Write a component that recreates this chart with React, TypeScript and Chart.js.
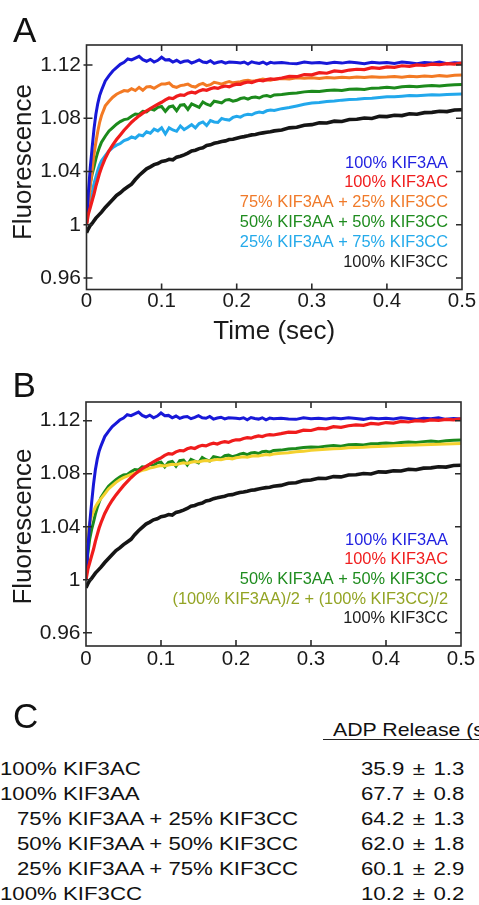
import React, { useEffect, useRef } from "react";
import { Chart, registerables } from "chart.js";

Chart.register(...registerables);

const FONT = '"Liberation Sans", Arial, Helvetica, sans-serif';

// Time (sec)
const TIME = [
  0, 0.0025, 0.005, 0.0075, 0.01, 0.0125, 0.015, 0.0175, 0.02,
  0.025, 0.03, 0.035, 0.04, 0.045, 0.05, 0.055, 0.06, 0.065, 0.07, 0.075, 0.08, 0.085, 0.09, 0.095, 0.1,
  0.105, 0.11, 0.115, 0.12, 0.125, 0.13, 0.135, 0.14, 0.145, 0.15, 0.155, 0.16, 0.165, 0.17, 0.175, 0.18, 0.185, 0.19, 0.195, 0.2,
  0.205, 0.21, 0.215, 0.22, 0.225, 0.23, 0.235, 0.24, 0.245, 0.25,
  0.26, 0.27, 0.28, 0.29, 0.3, 0.31, 0.32, 0.33, 0.34, 0.35, 0.36, 0.37, 0.38, 0.39, 0.4,
  0.41, 0.42, 0.43, 0.44, 0.45, 0.46, 0.47, 0.48, 0.49, 0.5,
];

// 100% KIF3AA (blue)
const KIF3AA = [
  1.0, 1.024, 1.043, 1.058, 1.072, 1.083, 1.091, 1.097, 1.101,
  1.108, 1.112, 1.1155, 1.118, 1.1205, 1.122, 1.1245, 1.1238, 1.1252, 1.1265, 1.124, 1.1228, 1.1242, 1.1222, 1.1235, 1.1258,
  1.1237, 1.124, 1.1222, 1.1235, 1.1218, 1.1228, 1.1232, 1.1215, 1.1225, 1.1238, 1.1222, 1.1218, 1.1232, 1.1212, 1.122, 1.1226, 1.1214, 1.1222, 1.122, 1.1218,
  1.1215, 1.1222, 1.1207, 1.1224, 1.1216, 1.1212, 1.1222, 1.1206, 1.122, 1.1214,
  1.1218, 1.1212, 1.121, 1.1222, 1.1215, 1.1218, 1.1212, 1.122, 1.1214, 1.1222, 1.1216, 1.121, 1.122, 1.1215, 1.1218,
  1.1212, 1.1222, 1.1216, 1.121, 1.1218, 1.1214, 1.1222, 1.121, 1.1216, 1.1212,
];

// 100% KIF3AC (red)
const KIF3AC = [
  1.0, 1.008, 1.013, 1.018, 1.023, 1.029, 1.034, 1.039, 1.043,
  1.05, 1.0555, 1.06, 1.064, 1.0675, 1.071, 1.074, 1.077, 1.0795, 1.0818, 1.0838, 1.0855, 1.0872, 1.089, 1.0905, 1.092,
  1.0938, 1.0952, 1.0948, 1.0965, 1.0975, 1.0972, 1.0988, 1.0996, 1.099, 1.1005, 1.1014, 1.101, 1.1022, 1.103, 1.1024, 1.1036, 1.1042, 1.1036, 1.1048, 1.1056,
  1.1055, 1.1066, 1.1072, 1.1068, 1.1078, 1.1085, 1.108, 1.109, 1.1095, 1.1092,
  1.1102, 1.1114, 1.1112, 1.1128, 1.1126, 1.1142, 1.1138, 1.1155, 1.115, 1.1162, 1.1168, 1.1165, 1.118, 1.1174, 1.1186,
  1.1182, 1.1194, 1.119, 1.12, 1.1196, 1.1206, 1.1202, 1.121, 1.1206, 1.1214,
];

// 75% KIF3AA + 25% KIF3CC (orange)
const MIX75 = [
  1.0, 1.014, 1.029, 1.041, 1.053, 1.062, 1.07, 1.077, 1.082,
  1.0893, 1.0928, 1.0958, 1.098, 1.0995, 1.1008, 1.1004, 1.1022, 1.1008, 1.1032, 1.101, 1.1035, 1.1038, 1.1025, 1.1042, 1.1058,
  1.1058, 1.1065, 1.104, 1.1032, 1.1045, 1.105, 1.1056, 1.104, 1.1034, 1.1052, 1.1062, 1.1045, 1.1052, 1.107, 1.1064, 1.1056, 1.1068, 1.1076, 1.1066, 1.107,
  1.1074, 1.1082, 1.1086, 1.1078, 1.1081, 1.1088, 1.1094, 1.1088, 1.1086, 1.1092,
  1.1098, 1.1094, 1.1104, 1.11, 1.1104, 1.1098, 1.1106, 1.1102, 1.1108, 1.1104, 1.111, 1.1106, 1.1112, 1.1108, 1.111,
  1.1114, 1.1108, 1.1115, 1.1112, 1.1118, 1.1114, 1.112, 1.1116, 1.1122, 1.1125,
];

// 50% KIF3AA + 50% KIF3CC (green)
const MIX50 = [
  1.0, 1.02, 1.031, 1.038, 1.0435, 1.0495, 1.0545, 1.0585, 1.062,
  1.0665, 1.0705, 1.073, 1.0755, 1.0775, 1.079, 1.0795, 1.0815, 1.0832, 1.0828, 1.0852, 1.0848, 1.087, 1.0862, 1.0882, 1.0888,
  1.0852, 1.0885, 1.0892, 1.0856, 1.0898, 1.0902, 1.0866, 1.0908, 1.0895, 1.0882, 1.0922, 1.0905, 1.0895, 1.0928, 1.0922, 1.0915, 1.0936, 1.094, 1.0928, 1.0935,
  1.0948, 1.0954, 1.0944, 1.0956, 1.096, 1.0952, 1.0966, 1.097, 1.0962, 1.0975,
  1.0978, 1.0986, 1.099, 1.0998, 1.1002, 1.1, 1.1008, 1.1012, 1.1008, 1.1018, 1.102, 1.1016, 1.1026, 1.1028, 1.1032,
  1.1028, 1.1036, 1.104, 1.1036, 1.1042, 1.1046, 1.1042, 1.1048, 1.1052, 1.1054,
];

// 25% KIF3AA + 75% KIF3CC (light blue)
const MIX25 = [
  1.002, 1.012, 1.018, 1.024, 1.031, 1.036, 1.041, 1.045, 1.048,
  1.052, 1.0555, 1.058, 1.0598, 1.061, 1.0632, 1.0642, 1.066, 1.065, 1.0675, 1.0668, 1.0698, 1.0688, 1.0718, 1.0705, 1.0728,
  1.0682, 1.0728, 1.0712, 1.0702, 1.0742, 1.0715, 1.0732, 1.0752, 1.0728, 1.076, 1.0772, 1.0745, 1.0782, 1.0772, 1.0768, 1.0798, 1.079, 1.0786, 1.0806, 1.0815,
  1.0808, 1.0824, 1.083, 1.0826, 1.084, 1.0846, 1.0842, 1.0856, 1.0862, 1.0858,
  1.0872, 1.088, 1.0892, 1.0905, 1.0915, 1.0918, 1.0926, 1.093, 1.0936, 1.094, 1.0942, 1.0948, 1.095, 1.0956, 1.0962,
  1.0962, 1.0966, 1.097, 1.0968, 1.0972, 1.0976, 1.0974, 1.0978, 1.098, 1.0982,
];

// 100% KIF3CC (black)
const KIF3CC = [
  0.994, 0.997, 0.9995, 1.001, 1.003, 1.005, 1.0065, 1.008, 1.0095,
  1.013, 1.016, 1.019, 1.022, 1.024, 1.0265, 1.0285, 1.0305, 1.034, 1.037, 1.0395, 1.042, 1.0435, 1.0452, 1.046, 1.0475,
  1.048, 1.0492, 1.0488, 1.0508, 1.0515, 1.0525, 1.0538, 1.0555, 1.056, 1.0572, 1.0578, 1.0595, 1.06, 1.0612, 1.0618, 1.0625, 1.063, 1.064, 1.0642, 1.065,
  1.0658, 1.0662, 1.0668, 1.0675, 1.0678, 1.0685, 1.069, 1.0695, 1.0698, 1.0705,
  1.0712, 1.0728, 1.0732, 1.0748, 1.0752, 1.0766, 1.0764, 1.0778, 1.0776, 1.079, 1.0792, 1.0802, 1.0798, 1.0814, 1.0812,
  1.0822, 1.082, 1.0834, 1.083, 1.0842, 1.0844, 1.0852, 1.085, 1.0862, 1.0864,
];

// (100% KIF3AA)/2 + (100% KIF3CC)/2 (yellow, panel B)
const AVG_AA_CC = [
  1.028, 1.036, 1.043, 1.048, 1.0515, 1.055, 1.0575, 1.0595, 1.0612,
  1.0648, 1.0685, 1.071, 1.0735, 1.0755, 1.077, 1.0782, 1.0795, 1.0805, 1.0815, 1.0825, 1.0832, 1.0842, 1.0848, 1.0856, 1.0862,
  1.0858, 1.0866, 1.0872, 1.0868, 1.0876, 1.0882, 1.0878, 1.0886, 1.0892, 1.0888, 1.0896, 1.09, 1.0896, 1.0904, 1.0908, 1.0905, 1.0912, 1.0916, 1.0912, 1.092,
  1.0924, 1.0928, 1.0925, 1.0932, 1.0936, 1.0934, 1.094, 1.0944, 1.0942, 1.0948,
  1.0954, 1.0958, 1.0965, 1.097, 1.0976, 1.098, 1.0984, 1.0988, 1.099, 1.0995, 1.0998, 1.1, 1.1004, 1.1006, 1.1008,
  1.101, 1.1012, 1.1015, 1.1016, 1.1018, 1.102, 1.1022, 1.1024, 1.1026, 1.1028,
];

const X_TICKS = [0, 0.1, 0.2, 0.3, 0.4, 0.5];
const X_TICK_LABELS = ["0", "0.1", "0.2", "0.3", "0.4", "0.5"];
const Y_TICKS = [0.96, 1, 1.04, 1.08, 1.12];
const Y_TICK_LABELS = ["0.96", "1", "1.04", "1.08", "1.12"];

// Panel C table
const TABLE_LABELS = [
  "100% KIF3AC",
  "100% KIF3AA",
  "75% KIF3AA + 25% KIF3CC",
  "50% KIF3AA + 50% KIF3CC",
  "25% KIF3AA + 75% KIF3CC",
  "100% KIF3CC",
];
const TABLE_INDENT = [false, false, true, true, true, false];
const TABLE_VALUES = [
  "35.9 ± 1.3",
  "67.7 ± 0.8",
  "64.2 ± 1.3",
  "62.0 ± 1.8",
  "60.1 ± 2.9",
  "10.2 ± 0.2",
];
const TABLE_HEADER = "ADP Release (s\u207B\u00B9)";

type Series = { label: string; data: number[]; color: string; text: string; z: number; w: number };

const S_AA: Series = { label: "100% KIF3AA", data: KIF3AA, color: "#1818d8", text: "#1f1fe0", z: 1, w: 3 };
const S_AC: Series = { label: "100% KIF3AC", data: KIF3AC, color: "#f01c1c", text: "#f01e1e", z: 0, w: 3.2 };
const S_75: Series = { label: "75% KIF3AA + 25% KIF3CC", data: MIX75, color: "#f37a24", text: "#f07a2a", z: 2, w: 3 };
const S_50: Series = { label: "50% KIF3AA + 50% KIF3CC", data: MIX50, color: "#1c8a1c", text: "#1f8c1f", z: 3, w: 3 };
const S_25: Series = { label: "25% KIF3AA + 75% KIF3CC", data: MIX25, color: "#22a8ec", text: "#25aaea", z: 4, w: 3 };
const S_CC: Series = { label: "100% KIF3CC", data: KIF3CC, color: "#151515", text: "#1a1a1a", z: 6, w: 3.6 };
const S_AVG: Series = { label: "(100% KIF3AA)/2 + (100% KIF3CC)/2", data: AVG_AA_CC, color: "#f4d12e", text: "#93a424", z: 2.5, w: 3 };

type PanelProps = {
  top: number;
  height: number;
  series: Series[];
  legendY: number[];
  legendX: number;
  padTop: number;
  padRight: number;
  yWidth: number;
  xHeight: number;
  xTickPad: number;
  showXTitle: boolean;
  yTitleY: number;
  yMin: number;
  yMax: number;
};

function Panel(p: PanelProps) {
  const ref = useRef<HTMLCanvasElement | null>(null);
  useEffect(() => {
    const canvas = ref.current;
    if (!canvas) return;
    const frame = {
      id: "frame",
      afterDatasetsDraw(chart: any) {
        const { ctx, chartArea: a, scales } = chart;
        const xs = scales.x;
        const ys = scales.y;
        ctx.save();
        ctx.strokeStyle = "#2b2b2b";
        ctx.lineWidth = 1.6;
        ctx.strokeRect(a.left, a.top, a.right - a.left, a.bottom - a.top);
        ctx.beginPath();
        for (const v of X_TICKS) {
          const px = xs.getPixelForValue(v);
          if (px <= a.left + 1 || px >= a.right - 1) continue;
          ctx.moveTo(px, a.bottom);
          ctx.lineTo(px, a.bottom - 6);
          ctx.moveTo(px, a.top);
          ctx.lineTo(px, a.top + 6);
        }
        for (const v of Y_TICKS) {
          const py = ys.getPixelForValue(v);
          ctx.moveTo(a.left - 3, py);
          ctx.lineTo(a.left + 6, py);
          ctx.moveTo(a.right, py);
          ctx.lineTo(a.right - 6, py);
        }
        ctx.stroke();
        // in-plot legend
        ctx.font = `16.4px ${FONT}`;
        ctx.textAlign = "right";
        ctx.textBaseline = "middle";
        p.series.forEach((s, i) => {
          ctx.fillStyle = s.text;
          ctx.fillText(s.label, p.legendX, p.legendY[i]);
        });
        // y axis title
        ctx.translate(24, p.yTitleY);
        ctx.rotate(-Math.PI / 2);
        ctx.font = `26px ${FONT}`;
        ctx.textAlign = "center";
        ctx.fillStyle = "#1a1a1a";
        ctx.fillText("Fluorescence", 0, 0);
        ctx.restore();
      },
    };
    const datasets = p.series.map((s) => ({
      label: s.label,
      data: TIME.map((t, i) => ({ x: t, y: s.data[i] })),
      borderColor: s.color,
      backgroundColor: s.color,
      borderWidth: s.w,
      pointRadius: 0,
      tension: 0,
      order: s.z,
    }));
    const chart = new Chart(canvas, {
      type: "line",
      data: { datasets },
      plugins: [frame],
      options: {
        responsive: false,
        animation: false,
        devicePixelRatio: 1,
        events: [],
        layout: { padding: { left: 0, top: p.padTop, right: p.padRight, bottom: 0 } },
        plugins: { legend: { display: false }, tooltip: { enabled: false } },
        scales: {
          x: {
            type: "linear",
            min: 0,
            max: 0.5,
            grid: { display: false, drawTicks: false },
            border: { display: false },
            afterBuildTicks: (s: any) => {
              s.ticks = X_TICKS.map((v) => ({ value: v }));
            },
            afterFit: (s: any) => {
              s.height = p.xHeight;
            },
            ticks: {
              autoSkip: false,
              maxRotation: 0,
              padding: p.xTickPad,
              color: "#1a1a1a",
              font: { size: 20.5, family: FONT, lineHeight: 1.2 },
              callback: (v: any) => X_TICK_LABELS[X_TICKS.indexOf(Number(v))],
            },
            title: {
              display: p.showXTitle,
              text: "Time (sec)",
              color: "#1a1a1a",
              font: { size: 26, family: FONT, lineHeight: 1 },
              padding: { top: 0, bottom: 0 },
            },
          },
          y: {
            type: "linear",
            min: p.yMin,
            max: p.yMax,
            grid: { display: false, drawTicks: false },
            border: { display: false },
            afterBuildTicks: (s: any) => {
              s.ticks = Y_TICKS.map((v) => ({ value: v }));
            },
            afterFit: (s: any) => {
              s.width = p.yWidth;
            },
            ticks: {
              autoSkip: false,
              padding: 5.5,
              color: "#1a1a1a",
              font: { size: 21, family: FONT },
              callback: (v: any) => Y_TICK_LABELS[Y_TICKS.indexOf(Number(v))],
            },
          },
        },
      },
    } as any);
    return () => chart.destroy();
  }, []);
  return (
    <canvas
      ref={ref}
      width={479}
      height={p.height}
      style={{ position: "absolute", left: 0, top: p.top, width: 479, height: p.height }}
    />
  );
}

const letterStyle = (left: number, top: number): React.CSSProperties => ({
  position: "absolute",
  left,
  top,
  fontSize: 35,
  lineHeight: "35px",
  color: "#111",
});

export default function App() {
  const rowTops = [759, 784, 809, 834, 859, 884];
  return (
    <div
      style={{
        position: "absolute",
        left: 0,
        top: 0,
        width: 479,
        height: 905,
        overflow: "hidden",
        background: "#fff",
        fontFamily: FONT,
        color: "#111",
      }}
    >
      <Panel
        top={0}
        height={345}
        series={[S_AA, S_AC, S_75, S_50, S_25, S_CC]}
        legendX={448}
        legendY={[163, 182.8, 202.6, 222.4, 242.2, 262]}
        padTop={45}
        padRight={17}
        yWidth={86.5}
        xHeight={55.5}
        xTickPad={0}
        showXTitle={true}
        yTitleY={162}
        yMin={0.9514}
        yMax={1.135}
      />
      <Panel
        top={350}
        height={330}
        series={[S_AA, S_AC, S_50, S_AVG, S_CC]}
        legendX={448}
        legendY={[190, 209.7, 229.4, 249.1, 268.8]}
        padTop={52}
        padRight={18}
        yWidth={86}
        xHeight={34}
        xTickPad={1}
        showXTitle={false}
        yTitleY={176.5}
        yMin={0.95}
        yMax={1.1341}
      />
      <div style={letterStyle(13, 12.4)}>A</div>
      <div style={letterStyle(12.5, 367.4)}>B</div>
      <div style={letterStyle(13, 698.4)}>C</div>
      <div
        style={{
          position: "absolute",
          left: 333,
          top: 719.5,
          fontSize: 19,
          lineHeight: "19px",
          whiteSpace: "nowrap",
          transform: "scaleX(1.12)",
          transformOrigin: "left center",
        }}
      >
        {TABLE_HEADER}
      </div>
      <div
        style={{
          position: "absolute",
          left: 323,
          top: 738.5,
          width: 160,
          height: 1.5,
          background: "#222",
        }}
      />
      {TABLE_LABELS.map((lab, i) => (
        <div
          key={"l" + i}
          style={{
            position: "absolute",
            left: TABLE_INDENT[i] ? 17 : 0,
            top: rowTops[i],
            fontSize: 19,
            lineHeight: "19px",
            whiteSpace: "nowrap",
            transform: "scaleX(1.17)",
            transformOrigin: "left center",
          }}
        >
          {lab}
        </div>
      ))}
      {TABLE_VALUES.map((val, i) => (
        <div
          key={"v" + i}
          style={{
            position: "absolute",
            left: 361,
            top: rowTops[i],
            fontSize: 19,
            lineHeight: "19px",
            whiteSpace: "pre",
            wordSpacing: 2,
            transform: "scaleX(1.17)",
            transformOrigin: "left center",
          }}
        >
          {val}
        </div>
      ))}
    </div>
  );
}
